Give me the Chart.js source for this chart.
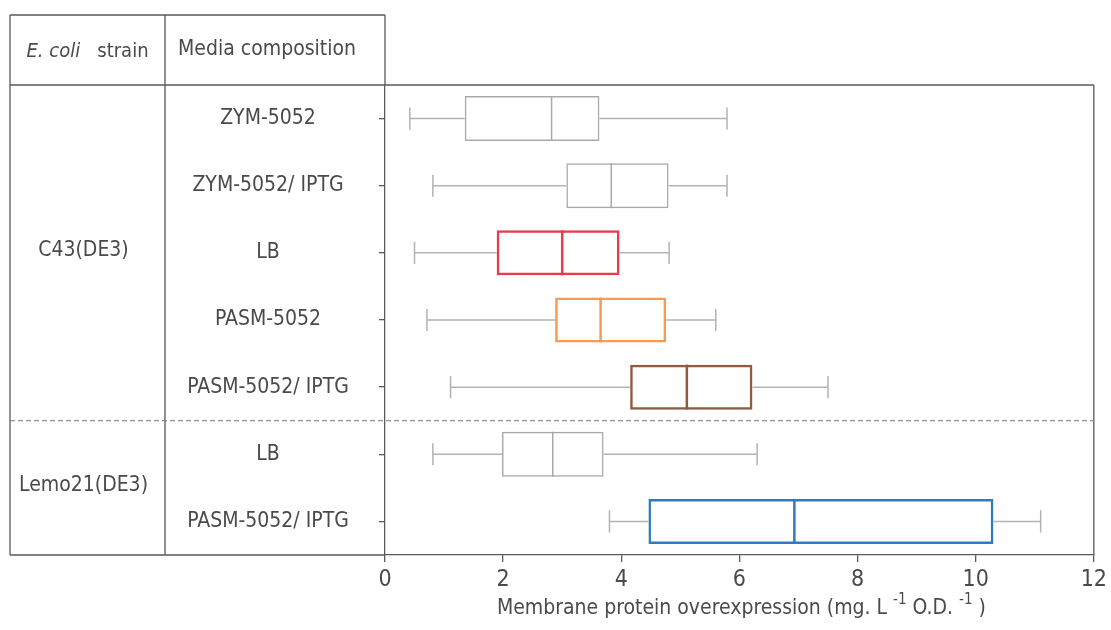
<!DOCTYPE html>
<html>
<head>
<meta charset="utf-8">
<script src="https://cdn.jsdelivr.net/npm/chart.js@4"></script>
<style>
  html, body { margin: 0; padding: 0; background: #fff; }
</style>
</head>
<body>
<canvas id="graficoCajas" width="1111" height="630"></canvas>
<script>
// datos
var medios = ['ZYM-5052', 'ZYM-5052/ IPTG', 'LB', 'PASM-5052', 'PASM-5052/ IPTG', 'LB', 'PASM-5052/ IPTG'];
var cepas = ['C43(DE3)', 'Lemo21(DE3)'];
var minimos = [0.42, 0.81, 0.50, 0.71, 1.11, 0.81, 3.80];
var q1 = [1.35, 3.07, 1.89, 2.88, 4.15, 1.98, 4.46];
var medianas = [2.82, 3.83, 3.00, 3.65, 5.11, 2.84, 6.93];
var q3 = [3.63, 4.80, 3.97, 4.76, 6.22, 3.70, 10.30];
var maximos = [5.79, 5.79, 4.81, 5.60, 7.50, 6.30, 11.10];
var ticksX = [0, 2, 4, 6, 8, 10, 12];

var colores = ['#a9a9a9', '#a9a9a9', '#ea3a4c', '#f89a4f', '#8f5c3f', '#a9a9a9', '#2f7bbf'];
var anchos = [1.5, 1.5, 2.5, 2.5, 2.5, 1.5, 2.5];
var linea = '#5a5a5a';
var texto = '#4a4a4a';
var fuente = '"Liberation Sans Narrow", "Arial Narrow", "DejaVu Sans Condensed", sans-serif';

/* ------------------------------------- tabla, bigotes y textos ------------------------------------- */
var cuadro = {
  id: 'cuadro',
  afterDatasetsDraw: function (chart) {
    var c = chart.ctx, x = chart.scales.x, y = chart.scales.y;
    var paso = y.getPixelForValue(1) - y.getPixelForValue(0);
    var tapa = paso * 0.165;
    c.save();
    for (var i = 0; i < medios.length; i++) {
      var yc = y.getPixelForValue(i);
      // bigotes
      c.strokeStyle = '#b3b3b3';
      c.lineWidth = 1.5;
      c.beginPath();
      c.moveTo(x.getPixelForValue(minimos[i]), yc);
      c.lineTo(x.getPixelForValue(q1[i]), yc);
      c.moveTo(x.getPixelForValue(q3[i]), yc);
      c.lineTo(x.getPixelForValue(maximos[i]), yc);
      c.moveTo(x.getPixelForValue(minimos[i]), yc - tapa);
      c.lineTo(x.getPixelForValue(minimos[i]), yc + tapa);
      c.moveTo(x.getPixelForValue(maximos[i]), yc - tapa);
      c.lineTo(x.getPixelForValue(maximos[i]), yc + tapa);
      c.stroke();
      // mediana
      var alto = paso * 0.67 / 2;
      c.strokeStyle = colores[i];
      c.lineWidth = anchos[i];
      c.beginPath();
      c.moveTo(x.getPixelForValue(medianas[i]), yc - alto);
      c.lineTo(x.getPixelForValue(medianas[i]), yc + alto);
      c.stroke();
    }
    c.restore();
  },
  afterDraw: function (chart) {
    var c = chart.ctx, a = chart.chartArea, y = chart.scales.y;
    var izq = 10, col = 165, arriba = 15;
    c.save();
    c.strokeStyle = linea;
    c.lineWidth = 1.3;
    c.beginPath();
    c.moveTo(izq, arriba); c.lineTo(a.left, arriba);
    c.moveTo(izq, arriba); c.lineTo(izq, a.bottom);
    c.moveTo(col, arriba); c.lineTo(col, a.bottom);
    c.moveTo(a.left, arriba); c.lineTo(a.left, a.top);
    c.moveTo(izq, a.top); c.lineTo(a.right, a.top);
    c.moveTo(a.right, a.top); c.lineTo(a.right, a.bottom);
    c.moveTo(izq, a.bottom); c.lineTo(a.left, a.bottom);
    c.stroke();

    // separador entre cepas
    var ySep = (y.getPixelForValue(4) + y.getPixelForValue(5)) / 2;
    c.strokeStyle = '#777';
    c.lineWidth = 1;
    c.setLineDash([5, 3]);
    c.beginPath();
    c.moveTo(izq, ySep); c.lineTo(a.right, ySep);
    c.stroke();
    c.setLineDash([]);

    c.fillStyle = texto;
    c.textBaseline = 'middle';

    // encabezados
    var yHead = (arriba + a.top) / 2 + 2;
    c.font = 'italic 20px ' + fuente;
    var w1 = c.measureText('E. coli').width;
    c.font = '20px ' + fuente;
    var w2 = c.measureText('   strain').width;
    var x0 = (izq + col) / 2 - (w1 + w2) / 2;
    c.textAlign = 'left';
    c.font = 'italic 20px ' + fuente;
    c.fillText('E. coli', x0, yHead);
    c.font = '20px ' + fuente;
    c.fillText('   strain', x0 + w1, yHead);
    c.textAlign = 'center';
    c.font = '21px ' + fuente;
    c.fillText('Media composition', (col + a.left) / 2 - 8, yHead - 2);

    // medios
    for (var i = 0; i < medios.length; i++) {
      c.fillText(medios[i], (col + a.left) / 2 - 7, y.getPixelForValue(i));
    }
    // cepas
    c.font = '21px ' + fuente;
    c.fillText(cepas[0], (izq + col) / 2 - 4, (y.getPixelForValue(0) + y.getPixelForValue(4)) / 2 - 2);
    c.fillText(cepas[1], (izq + col) / 2 - 4, (y.getPixelForValue(5) + y.getPixelForValue(6)) / 2 - 2);

    // titulo del eje x con superindices
    var partes = [['Membrane protein overexpression (mg. L ', 21, 0], ['-1', 15, -9], [' O.D. ', 21, 0], ['-1', 15, -9], [' )', 21, 0]];
    var total = 0;
    partes.forEach(function (p) { c.font = p[1] + 'px ' + fuente; total += c.measureText(p[0]).width; });
    var xt = (a.left + a.right) / 2 - total / 2 + 2;
    var yt = 609;
    c.textAlign = 'left';
    partes.forEach(function (p) {
      c.font = p[1] + 'px ' + fuente;
      c.fillText(p[0], xt, yt + p[2]);
      xt += c.measureText(p[0]).width;
    });
    c.restore();
  }
};

/* ------------------------------------- grafico ------------------------------------- */
var ctx = document.getElementById('graficoCajas').getContext('2d');
var graficoCajas = new Chart(ctx, {
  type: 'bar',
  data: {
    labels: medios,
    datasets: [{
      data: medios.map(function (m, i) { return [q1[i], q3[i]]; }),
      backgroundColor: 'rgba(255,255,255,0)',
      borderColor: colores,
      borderWidth: anchos,
      borderSkipped: false,
      barPercentage: 0.67,
      categoryPercentage: 1
    }]
  },
  options: {
    indexAxis: 'y',
    responsive: false,
    animation: false,
    devicePixelRatio: 1,
    layout: { padding: { left: 10, top: 85, right: 15, bottom: 0 } },
    plugins: { legend: { display: false }, tooltip: { enabled: false } },
    scales: {
      x: {
        min: 0, max: 12,
        afterBuildTicks: function (s) { s.ticks = ticksX.map(function (v) { return { value: v }; }); },
        afterFit: function (s) { s.height = 75; },
        grid: { drawOnChartArea: false, tickLength: 7, color: linea, lineWidth: 1.3 },
        border: { color: linea, width: 1.3 },
        ticks: { color: texto, font: { family: fuente, size: 23 }, padding: 4, maxRotation: 0 }
      },
      y: {
        afterFit: function (s) { s.width = 375; },
        grid: { offset: false, drawOnChartArea: false, tickLength: 6, color: linea, lineWidth: 1.3 },
        border: { color: linea, width: 1.3 },
        ticks: { display: false }
      }
    }
  },
  plugins: [cuadro]
});
</script>
</body>
</html>
